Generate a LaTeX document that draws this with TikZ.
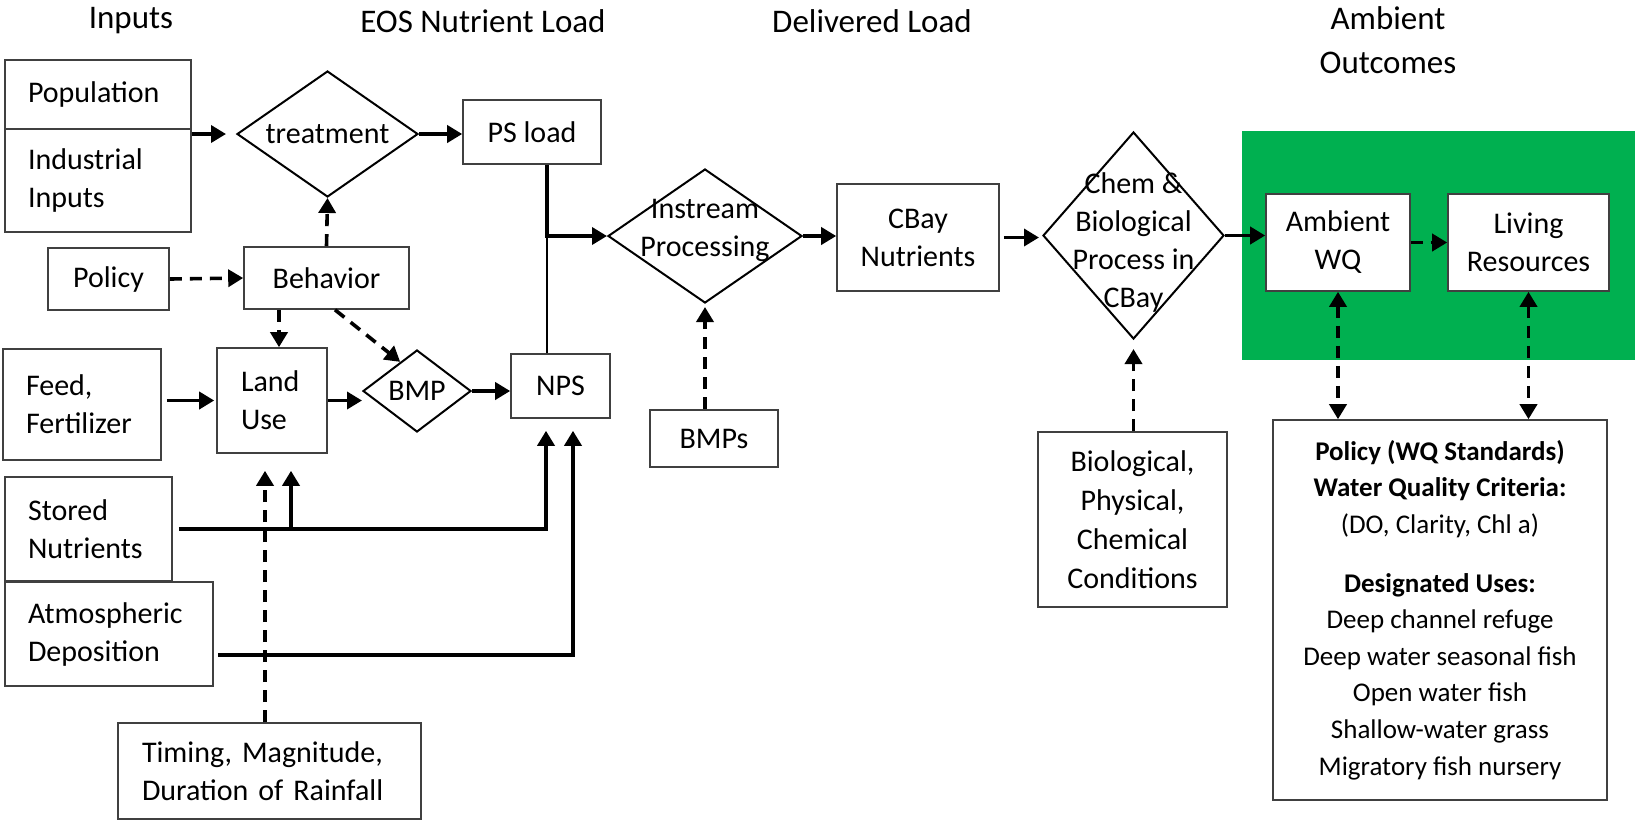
\documentclass[tikz,border=0pt]{standalone}
\usepackage{fontspec}
\setmainfont{Carlito}
\usepackage{tikz}
\usetikzlibrary{arrows.meta}
\usetikzlibrary{positioning}
\usetikzlibrary{shapes.geometric}
\definecolor{wqgreen}{RGB}{0, 176, 80}
\newcommand{\bxfont}{\fontsize{15}{19}\selectfont}
\newcommand{\hdfont}{\fontsize{16.5}{22}\selectfont}
\newcommand{\polfont}{\fontsize{13.5}{18.3}\selectfont}
\tikzset{
    flow/.style = {-{Triangle[length=7.5pt,width=8.5pt]}, line width=1.8pt},
    dflow/.style = {flow, dash pattern=on 6pt off 4pt},
    ddflow/.style = {dflow, {Triangle[length=7.5pt,width=8.5pt]}-{Triangle[length=7.5pt,width=8.5pt]}},
    box/.style = {
      draw=black!75,
      line width=0.8pt,
      fill=white,
      rectangle,
      inner sep=0pt,
      align=center,
      font=\bxfont
    },
    lbox/.style = {box, align=left, inner xsep=11.5pt, text width=#1},
    dmd/.style = {
      draw=black,
      line width=1pt,
      fill=white,
      diamond,
      inner sep=0pt
    },
    dtext/.style = {align=center, font=\bxfont, inner sep=0pt},
    colhead/.style = {align=center, font=\hdfont},
}

\begin{document}
\begin{tikzpicture}[x=0.5pt, y=-0.5pt]
  \useasboundingbox (0,0) rectangle (1635,821);
  \fill[wqgreen] (1242,131) rectangle (1635,360);

  % column titles
  \node[colhead] (tin) at (131,21) {Inputs};
  \node[colhead] (teos) at (483,21) {EOS Nutrient Load};
  \node[colhead] (tdel) at (872,21) {Delivered Load};
  \node[colhead] (tamb) at (1388,40) {Ambient\\Outcomes};

  % inputs and EOS load
  \node[lbox=70pt, minimum height=34.5pt] (pop) at (98,94.5) {Population};
  \node[lbox=70pt, minimum height=51.5pt] (ind) at (98,180.5) {Industrial\\Inputs};
  \node[dmd, minimum width=90.5pt, minimum height=63pt,
        label={[dtext]center:treatment}] (treat) at (327.5,134) {};
  \node[box, minimum width=69pt, minimum height=32pt] (ps) at (532,132) {PS load};
  \node[box, minimum width=60.5pt, minimum height=31pt] (policy) at (108.5,279) {Policy};
  \node[box, minimum width=82.5pt, minimum height=31pt] (behav) at (326.5,278) {Behavior};
  \node[lbox=56pt, minimum height=55.5pt] (feed) at (82,404.5) {Feed,\\Fertilizer};
  \node[lbox=31pt, inner xsep=12pt, minimum height=52.5pt] (land) at (272,400.5) {Land\\Use};
  \node[dmd, minimum width=54pt, minimum height=41pt,
        label={[dtext]center:BMP}] (bmp) at (417,391) {};
  \node[box, minimum width=49.5pt, minimum height=32pt] (nps) at (560.5,386) {NPS};
  \node[lbox=60.5pt, minimum height=52pt] (stored) at (88.5,529) {Stored\\Nutrients};
  \node[lbox=81pt, minimum height=52pt] (atmos) at (109,634) {Atmospheric\\Deposition};
  \node[lbox=127.5pt, inner xsep=12pt, minimum height=48pt] (timing) at (269.5,771)
        {Timing, Magnitude,\\Duration of Rainfall};

  % delivered load
  \node[dmd, minimum width=97pt, minimum height=67pt,
        label={[dtext, yshift=3pt]center:Instream\\Processing}] (instream) at (705,236) {};
  \node[box, minimum width=64pt, minimum height=28.5pt] (bmps) at (714,438.5) {BMPs};
  \node[box, minimum width=81pt, minimum height=53.5pt] (cbay) at (918,237.5) {CBay\\Nutrients};
  \node[dmd, minimum width=90.5pt, minimum height=103.5pt,
        label={[dtext, yshift=-3.5pt]center:Chem \&\\Biological\\Process in\\CBay}] (chem) at (1133.5,235.5) {};
  \node[box, minimum width=94.5pt, minimum height=87.5pt, font=\fontsize{15}{19.5}\selectfont] (bio)
        at (1132.5,519.5) {Biological,\\Physical,\\Chemical\\Conditions};

  % ambient outcomes
  \node[box, minimum width=72pt, minimum height=48.5pt] (amb) at (1338,242.5) {Ambient\\WQ};
  \node[box, minimum width=80.5pt, minimum height=48.5pt] (liv) at (1528.5,242.5) {Living\\Resources};
  \node[box, minimum width=167pt, minimum height=190pt, font=\polfont] (pol) at (1440,610)
        {\textbf{Policy (WQ Standards)}\\\textbf{Water Quality Criteria:}\\(DO, Clarity, Chl a)\\[11pt]
         \textbf{Designated Uses:}\\Deep channel refuge\\Deep water seasonal fish\\Open water fish\\
         Shallow-water grass\\Migratory fish nursery};

  \coordinate (join) at (547,236);
  \coordinate (luin) at ([xshift=3.5pt]land.north);
  \coordinate (lub) at ([xshift=9.5pt]land.south);
  \coordinate (luc) at ([xshift=-3.5pt]land.south);
  \coordinate (npsa) at ([xshift=-7.25pt]nps.south);
  \coordinate (npsb) at ([xshift=6.25pt]nps.south);

  \draw[flow, shorten >=5pt] (pop.south east |- treat.west) -- (treat.west);
  \draw[flow] (treat.east) -- (treat.east -| ps.west);
  \draw[flow] (join |- ps.south) -- (join) -- (instream.west);
  \draw[line width=0.7pt] (nps.north -| join) -- (join);
  \draw[dflow] (policy.east) -- (behav.west);
  \draw[dflow] (behav.north) -- (treat.south);
  \draw[dflow] (luin |- behav.south) -- (luin);
  \draw[dflow] ([xshift=4.25pt]behav.south) -- (bmp.120);
  \draw[flow, shorten <=2.5pt, shorten >=1pt] (feed.east |- land.west) -- (land.west);
  \draw[flow] (land.east) -- (land.east -| bmp.west);
  \draw[flow] (bmp.east) -- (bmp.east -| nps.west);
  \draw[flow, shorten <=3pt, shorten >=6pt] (stored.east) -| (npsa);
  \draw[flow, shorten >=8.5pt] (lub |- stored.east) -- (lub);
  \draw[flow, shorten <=2pt, shorten >=6pt] ([yshift=-10.5pt]atmos.east) -| (npsb);
  \draw[dflow, shorten >=8.5pt] (luc |- timing.north) -- (luc);

  \draw[flow] (instream.east) -- (instream.east -| cbay.west);
  \draw[flow, shorten <=2pt, shorten >=1.5pt] (cbay.east) -- (cbay.east -| chem.west);
  \draw[dflow, shorten >=1.5pt] (bmps.north -| instream.south) -- (instream.south);
  \draw[dflow, shorten >=4.5pt] (bio.north -| chem.south) -- (chem.south);

  \draw[flow] (chem.east) -- (chem.east -| amb.west);
  \draw[dflow] (amb.east) -- (liv.west);
  \draw[ddflow] (amb.south) -- (amb.south |- pol.north);
  \draw[ddflow] (liv.south) -- (liv.south |- pol.north);
\end{tikzpicture}
\end{document}
